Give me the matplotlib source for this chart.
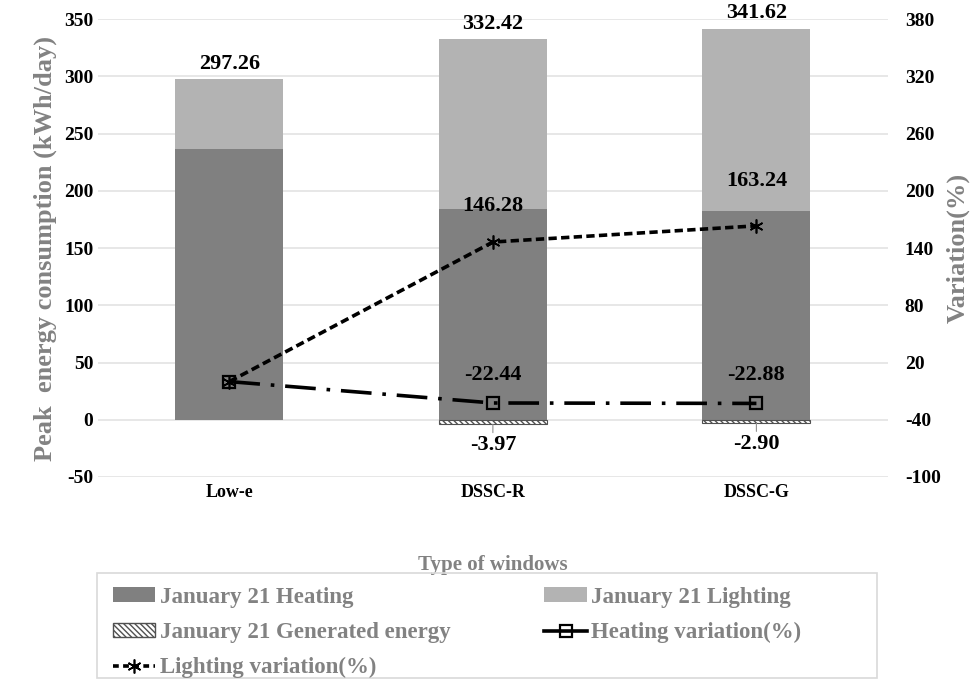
import numpy as np
import matplotlib.pyplot as plt
from matplotlib.patches import Patch, Rectangle
from matplotlib.lines import Line2D

plt.rcParams['font.family'] = ['Liberation Serif', 'DejaVu Serif']
plt.rcParams['font.weight'] = 'bold'
plt.rcParams['axes.labelweight'] = 'bold'
plt.rcParams['axes.unicode_minus'] = False

# --- data ---
windows = ["Low-e", "DSSC-R", "DSSC-G"]
heating = [236.9, 183.7, 182.7]
totals = [297.26, 332.42, 341.62]
lighting = [t - h for t, h in zip(totals, heating)]
generated = [0.0, -3.97, -2.90]
heating_var = [0.0, -22.44, -22.88]
lighting_var = [0.0, 146.28, 163.24]

GRAY_TXT = "#828282"
C_HEAT = "#808080"
C_LIGHT = "#b3b3b3"
HATCH = "\\\\\\\\\\\\"
DASH_HEAT = (8.5, 3, 1, 3)
DASH_LIGHT = (2.3, 1.2)

fig = plt.figure(figsize=(9.76, 6.82), dpi=100)
ax = fig.add_axes([0.1, 0.3006, 0.81, 0.6715])
x = np.arange(len(windows))
w = 0.41

ax.bar(x, heating, w, color=C_HEAT, zorder=2)
ax.bar(x, lighting, w, bottom=heating, color=C_LIGHT, zorder=2)
ax.bar(x[1:], generated[1:], w, color="white", edgecolor="#505050",
       hatch=HATCH, linewidth=0.8, zorder=2)

ax.set_ylim(-50, 350)
ax.set_xlim(-0.5, 2.5)
ax.set_yticks(np.arange(-50, 351, 50))
ax.yaxis.grid(True, color="#e3e3e3", lw=1.2, zorder=0)
ax.set_axisbelow(True)
for s in ax.spines.values():
    s.set_visible(False)
ax.tick_params(length=0, labelsize=14, pad=3)
ax.tick_params(axis="x", pad=5, labelsize=13)
ax.set_xticks(x)
ax.set_xticklabels(windows)
ax.set_ylabel("Peak  energy consumption (kWh/day)", color=GRAY_TXT, fontsize=19,
              labelpad=5)
ax.set_xlabel("Type of windows", color=GRAY_TXT, fontsize=15, labelpad=39)

# totals above each stack
for xi, t in zip(x, totals):
    ax.annotate(f"{t:.2f}", (xi, t), xytext=(0, 4), textcoords="offset points",
                ha="center", va="bottom", fontsize=16)

# generated energy labels with short leader line
for xi, g in zip(x[1:], generated[1:]):
    ax.annotate(f"{g:.2f}", (xi, g), xytext=(0, -8), textcoords="offset points",
                ha="center", va="top", fontsize=16,
                arrowprops=dict(arrowstyle="-", color="#909090", lw=0.8,
                                shrinkA=0, shrinkB=0))

# variation lines on secondary axis
ax2 = ax.twinx()
ax2.set_ylim(-100, 380)
ax2.set_yticks(np.arange(-100, 381, 60))
for s in ax2.spines.values():
    s.set_visible(False)
ax2.tick_params(length=0, labelsize=14, pad=12)
ax2.set_ylabel("Variation(%)", color=GRAY_TXT, fontsize=19, labelpad=4)

ax2.plot(x, heating_var, color="black", lw=2.6, dashes=DASH_HEAT,
         marker="s", ms=9, mfc="none", mec="black", mew=1.6, zorder=3)
ax2.plot(x, lighting_var, color="black", lw=2.6, dashes=DASH_LIGHT,
         marker=(6, 2, 0), ms=10, mec="black", mew=1.2, zorder=4)

for xi, v in zip(x[1:], heating_var[1:]):
    ax2.annotate(f"{v:.2f}", (xi, v), xytext=(0, 13), textcoords="offset points",
                 ha="center", va="bottom", fontsize=16)
for xi, v, off in zip(x[1:], lighting_var[1:], [19, 25]):
    ax2.annotate(f"{v:.2f}", (xi, v), xytext=(0, off), textcoords="offset points",
                 ha="center", va="bottom", fontsize=16)

handles = [
    Patch(facecolor=C_HEAT, label="January 21 Heating"),
    Patch(facecolor="white", edgecolor="#505050", hatch=HATCH,
          label="January 21 Generated energy"),
    Line2D([], [], color="black", lw=2.6, dashes=(1.6, 1.2), marker=(6, 2, 0),
           ms=10, mew=1.2, label="Lighting variation(%)"),
    Patch(facecolor=C_LIGHT, label="January 21 Lighting"),
    Line2D([], [], color="black", lw=2.6, marker="s", ms=9, mfc="none",
           mew=1.6, label="Heating variation(%)"),
]
leg = fig.legend(handles=handles, ncol=2, loc="upper left",
                 bbox_to_anchor=(0.106, 0.153), frameon=False,
                 fontsize=16.5, handlelength=1.85, handleheight=0.6,
                 handletextpad=0.2, labelspacing=0.62, borderaxespad=0,
                 columnspacing=4.1)
for t in leg.get_texts():
    t.set_color(GRAY_TXT)

# legend frame
fig.patches.append(Rectangle((0.099, 0.006), 0.8, 0.154, transform=fig.transFigure,
                             fill=False, edgecolor="#d9d9d9", lw=1.2))

fig.savefig("out.png", dpi=100)
